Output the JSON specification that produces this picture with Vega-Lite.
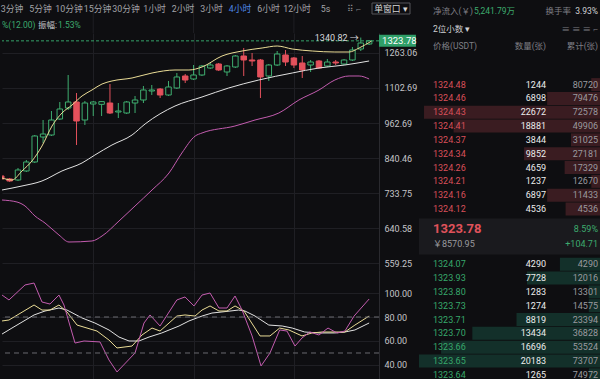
{
  "$schema": "https://vega.github.io/schema/vega-lite/v6.json",
  "background": "#0e0e11",
  "padding": 0,
  "config": {
    "view": {"stroke": null},
    "font": "Roboto, Noto Sans CJK SC",
    "concat": {"spacing": 0},
    "axis": {"labelFont": "Roboto", "labelColor": "#c4c4c8", "labelFontSize": 9, "gridColor": "#1f1f24", "domain": false, "ticks": false, "title": null}
  },
  "datasets": {
    "candles": [
      {"i":0,"o":784.1,"c":775.0,"h":790.2,"l":769.0,"d":"down"},
      {"i":1,"o":775.0,"c":769.0,"h":778.0,"l":766.0,"d":"down"},
      {"i":2,"o":772.0,"c":802.5,"h":808.7,"l":769.0,"d":"up"},
      {"i":3,"o":799.4,"c":827.8,"h":834.2,"l":796.3,"d":"up"},
      {"i":4,"o":827.8,"c":915.5,"h":919.0,"l":824.6,"d":"up"},
      {"i":5,"o":911.9,"c":922.6,"h":974.0,"l":891.0,"d":"up"},
      {"i":6,"o":919.0,"c":974.0,"h":1008.6,"l":915.5,"d":"up"},
      {"i":7,"o":977.8,"c":1016.5,"h":1044.5,"l":974.0,"d":"up"},
      {"i":8,"o":1020.4,"c":1044.5,"h":1159.7,"l":1012.5,"d":"up"},
      {"i":9,"o":1044.5,"c":970.3,"h":1081.5,"l":884.1,"d":"down"},
      {"i":10,"o":974.0,"c":1040.4,"h":1048.5,"l":955.3,"d":"up"},
      {"i":11,"o":1036.4,"c":1044.5,"h":1048.5,"l":989.2,"d":"up"},
      {"i":12,"o":1035.0,"c":1046.0,"h":1048.5,"l":989.2,"d":"up"},
      {"i":13,"o":1040.4,"c":1000.8,"h":1119.9,"l":996.9,"d":"down"},
      {"i":14,"o":1004.7,"c":1008.6,"h":1040.4,"l":981.6,"d":"up"},
      {"i":15,"o":1000.8,"c":1044.5,"h":1048.5,"l":996.9,"d":"up"},
      {"i":16,"o":1040.4,"c":1052.6,"h":1069.1,"l":1000.8,"d":"up"},
      {"i":17,"o":1052.6,"c":1094.2,"h":1111.3,"l":1040.4,"d":"up"},
      {"i":18,"o":1089.9,"c":1094.2,"h":1115.6,"l":1073.2,"d":"up"},
      {"i":19,"o":1098.4,"c":1073.2,"h":1102.7,"l":1060.8,"d":"down"},
      {"i":20,"o":1073.2,"c":1107.0,"h":1133.1,"l":1069.1,"d":"up"},
      {"i":21,"o":1102.7,"c":1150.8,"h":1168.7,"l":1098.4,"d":"up"},
      {"i":22,"o":1155.2,"c":1137.4,"h":1164.2,"l":1124.3,"d":"down"},
      {"i":23,"o":1141.9,"c":1159.7,"h":1205.5,"l":1137.4,"d":"up"},
      {"i":24,"o":1159.7,"c":1200.9,"h":1205.5,"l":1155.2,"d":"up"},
      {"i":25,"o":1191.6,"c":1205.5,"h":1214.9,"l":1187.0,"d":"up"},
      {"i":26,"o":1210.2,"c":1182.4,"h":1214.9,"l":1178.0,"d":"down"},
      {"i":27,"o":1173.3,"c":1200.9,"h":1205.5,"l":1155.2,"d":"up"},
      {"i":28,"o":1196.2,"c":1248.3,"h":1253.2,"l":1191.6,"d":"up"},
      {"i":29,"o":1248.3,"c":1229.1,"h":1287.6,"l":1155.2,"d":"down"},
      {"i":30,"o":1229.1,"c":1224.4,"h":1262.9,"l":1200.9,"d":"down"},
      {"i":31,"o":1229.1,"c":1150.8,"h":1233.9,"l":1060.8,"d":"down"},
      {"i":32,"o":1155.2,"c":1205.5,"h":1210.2,"l":1133.1,"d":"up"},
      {"i":33,"o":1205.5,"c":1258.1,"h":1272.7,"l":1200.9,"d":"up"},
      {"i":34,"o":1253.2,"c":1219.6,"h":1277.7,"l":1200.9,"d":"down"},
      {"i":35,"o":1238.7,"c":1205.5,"h":1243.5,"l":1191.6,"d":"down"},
      {"i":36,"o":1214.9,"c":1182.4,"h":1248.3,"l":1146.3,"d":"down"},
      {"i":37,"o":1205.5,"c":1219.6,"h":1229.1,"l":1173.3,"d":"up"},
      {"i":38,"o":1224.4,"c":1191.6,"h":1229.1,"l":1187.0,"d":"down"},
      {"i":39,"o":1200.9,"c":1219.6,"h":1233.9,"l":1196.2,"d":"up"},
      {"i":40,"o":1219.6,"c":1214.9,"h":1229.1,"l":1205.5,"d":"down"},
      {"i":41,"o":1210.2,"c":1229.1,"h":1233.9,"l":1205.5,"d":"up"},
      {"i":42,"o":1229.1,"c":1277.7,"h":1292.6,"l":1224.4,"d":"up"},
      {"i":43,"o":1282.6,"c":1312.8,"h":1340.82,"l":1272.7,"d":"up"},
      {"i":44,"o":1307.7,"c":1323.78,"h":1328.1,"l":1302.7,"d":"up"}
    ],
    "ma": [
      {"s":"MA1","i":0.09,"v":778.0},{"s":"MA1","i":1.28,"v":772.0},{"s":"MA1","i":2.48,"v":799.4},{"s":"MA1","i":3.67,"v":831.0},{"s":"MA1","i":4.87,"v":880.7},{"s":"MA1","i":6.07,"v":951.6},{"s":"MA1","i":7.26,"v":1000.8},{"s":"MA1","i":8.46,"v":1032.3},{"s":"MA1","i":9.66,"v":1069.1},{"s":"MA1","i":10.85,"v":1094.2},{"s":"MA1","i":12.05,"v":1119.9},{"s":"MA1","i":13.24,"v":1133.1},{"s":"MA1","i":15.64,"v":1146.3},{"s":"MA1","i":18.03,"v":1168.7},{"s":"MA1","i":20.78,"v":1182.4},{"s":"MA1","i":22.45,"v":1182.4},{"s":"MA1","i":24.01,"v":1196.2},{"s":"MA1","i":26.4,"v":1248.3},{"s":"MA1","i":28.8,"v":1272.7},{"s":"MA1","i":31.2,"v":1287.6},{"s":"MA1","i":33.0,"v":1297.6},{"s":"MA1","i":34.8,"v":1282.6},{"s":"MA1","i":37.2,"v":1272.7},{"s":"MA1","i":39.9,"v":1267.8},{"s":"MA1","i":41.6,"v":1267.8},{"s":"MA1","i":42.8,"v":1287.6},{"s":"MA1","i":44.3,"v":1323.0},
      {"s":"MA2","i":0.09,"v":742.6},{"s":"MA2","i":2.48,"v":754.2},{"s":"MA2","i":4.87,"v":769.0},{"s":"MA2","i":7.26,"v":799.4},{"s":"MA2","i":9.66,"v":824.6},{"s":"MA2","i":11.2,"v":850.5},{"s":"MA2","i":13.24,"v":884.1},{"s":"MA2","i":15.64,"v":919.0},{"s":"MA2","i":17.2,"v":959.1},{"s":"MA2","i":20.78,"v":1028.3},{"s":"MA2","i":24.01,"v":1064.9},{"s":"MA2","i":27.2,"v":1102.7},{"s":"MA2","i":30.8,"v":1137.4},{"s":"MA2","i":34.8,"v":1168.7},{"s":"MA2","i":38.0,"v":1191.6},{"s":"MA2","i":41.1,"v":1205.5},{"s":"MA2","i":44.0,"v":1224.4},
      {"s":"MA3","i":0.09,"v":714.3},{"s":"MA3","i":1.88,"v":708.8},{"s":"MA3","i":2.84,"v":698.0},{"s":"MA3","i":4.03,"v":671.4},{"s":"MA3","i":5.23,"v":653.4},{"s":"MA3","i":6.9,"v":623.7},{"s":"MA3","i":8.1,"v":607.0},{"s":"MA3","i":10.85,"v":609.4},{"s":"MA3","i":12.05,"v":621.3},{"s":"MA3","i":14.08,"v":658.5},{"s":"MA3","i":16.0,"v":698.0},{"s":"MA3","i":18.03,"v":742.6},{"s":"MA3","i":20.06,"v":793.2},{"s":"MA3","i":21.6,"v":857.1},{"s":"MA3","i":23.2,"v":915.5},{"s":"MA3","i":24.01,"v":926.2},{"s":"MA3","i":27.95,"v":951.6},{"s":"MA3","i":30.35,"v":974.0},{"s":"MA3","i":33.2,"v":1000.8},{"s":"MA3","i":35.6,"v":1052.6},{"s":"MA3","i":38.0,"v":1094.2},{"s":"MA3","i":39.9,"v":1137.4},{"s":"MA3","i":41.6,"v":1155.2},{"s":"MA3","i":42.8,"v":1155.2},{"s":"MA3","i":44.0,"v":1141.9}
    ],
    "kdj": [
      {"s":"D","i":0.09,"v":65.8},{"s":"D","i":1.28,"v":70.8},{"s":"D","i":3.92,"v":81.7},{"s":"D","i":5.23,"v":85.0},{"s":"D","i":6.9,"v":87.5},{"s":"D","i":7.86,"v":85.8},{"s":"D","i":9.66,"v":79.2},{"s":"D","i":11.2,"v":75.0},{"s":"D","i":12.88,"v":69.2},{"s":"D","i":14.08,"v":63.3},{"s":"D","i":15.28,"v":60.0},{"s":"D","i":16.47,"v":60.0},{"s":"D","i":17.67,"v":63.3},{"s":"D","i":19.2,"v":66.7},{"s":"D","i":21.26,"v":72.5},{"s":"D","i":22.45,"v":76.7},{"s":"D","i":24.01,"v":80.8},{"s":"D","i":25.2,"v":83.3},{"s":"D","i":26.4,"v":84.2},{"s":"D","i":28.4,"v":85.8},{"s":"D","i":29.15,"v":85.0},{"s":"D","i":30.35,"v":80.8},{"s":"D","i":32.0,"v":73.3},{"s":"D","i":33.6,"v":72.5},{"s":"D","i":34.8,"v":70.8},{"s":"D","i":36.3,"v":67.5},{"s":"D","i":38.0,"v":66.7},{"s":"D","i":39.9,"v":66.7},{"s":"D","i":41.1,"v":67.5},{"s":"D","i":42.3,"v":69.2},{"s":"D","i":44.0,"v":75.0},
      {"s":"K","i":0.09,"v":76.7},{"s":"K","i":0.92,"v":77.5},{"s":"K","i":3.92,"v":90.0},{"s":"K","i":4.87,"v":85.8},{"s":"K","i":5.83,"v":85.8},{"s":"K","i":6.9,"v":90.0},{"s":"K","i":7.86,"v":84.2},{"s":"K","i":9.06,"v":73.3},{"s":"K","i":11.45,"v":68.3},{"s":"K","i":12.88,"v":60.8},{"s":"K","i":13.84,"v":54.2},{"s":"K","i":15.64,"v":55.8},{"s":"K","i":16.83,"v":65.0},{"s":"K","i":18.03,"v":70.8},{"s":"K","i":18.99,"v":68.3},{"s":"K","i":21.0,"v":80.8},{"s":"K","i":21.98,"v":81.7},{"s":"K","i":23.17,"v":80.8},{"s":"K","i":24.01,"v":85.8},{"s":"K","i":24.97,"v":89.2},{"s":"K","i":26.04,"v":85.0},{"s":"K","i":27.0,"v":85.0},{"s":"K","i":27.96,"v":89.2},{"s":"K","i":29.03,"v":85.0},{"s":"K","i":30.95,"v":64.2},{"s":"K","i":32.14,"v":64.2},{"s":"K","i":33.3,"v":70.8},{"s":"K","i":34.4,"v":69.2},{"s":"K","i":35.97,"v":64.2},{"s":"K","i":37.17,"v":66.7},{"s":"K","i":38.36,"v":67.5},{"s":"K","i":39.9,"v":67.5},{"s":"K","i":41.1,"v":67.5},{"s":"K","i":42.3,"v":73.3},{"s":"K","i":44.0,"v":80.8},
      {"s":"J","i":0.09,"v":98.3},{"s":"J","i":0.92,"v":94.2},{"s":"J","i":2.84,"v":106.7},{"s":"J","i":3.92,"v":108.3},{"s":"J","i":4.87,"v":92.5},{"s":"J","i":5.83,"v":90.8},{"s":"J","i":6.9,"v":98.3},{"s":"J","i":7.5,"v":90.0},{"s":"J","i":8.82,"v":58.3},{"s":"J","i":9.9,"v":60.0},{"s":"J","i":11.81,"v":59.2},{"s":"J","i":12.88,"v":44.2},{"s":"J","i":13.84,"v":34.2},{"s":"J","i":16.0,"v":50.0},{"s":"J","i":17.07,"v":75.0},{"s":"J","i":17.79,"v":81.7},{"s":"J","i":18.99,"v":72.5},{"s":"J","i":21.0,"v":94.2},{"s":"J","i":21.98,"v":96.7},{"s":"J","i":23.05,"v":89.2},{"s":"J","i":24.01,"v":98.3},{"s":"J","i":24.97,"v":100.0},{"s":"J","i":26.04,"v":87.5},{"s":"J","i":27.0,"v":87.5},{"s":"J","i":27.96,"v":97.5},{"s":"J","i":28.8,"v":85.8},{"s":"J","i":30.0,"v":64.2},{"s":"J","i":31.07,"v":39.2},{"s":"J","i":32.14,"v":50.0},{"s":"J","i":33.3,"v":69.2},{"s":"J","i":34.17,"v":68.3},{"s":"J","i":35.13,"v":55.8},{"s":"J","i":35.97,"v":62.5},{"s":"J","i":36.9,"v":67.5},{"s":"J","i":38.0,"v":65.0},{"s":"J","i":39.08,"v":70.8},{"s":"J","i":40.16,"v":66.7},{"s":"J","i":41.1,"v":68.3},{"s":"J","i":42.2,"v":80.8},{"s":"J","i":44.0,"v":95.0}
    ],
    "book": [
      {"row":"a1","side":"ask","price":"1324.48","qty":1244,"cum":80720},
      {"row":"a2","side":"ask","price":"1324.46","qty":6898,"cum":79476},
      {"row":"a3","side":"ask","price":"1324.43","qty":22672,"cum":72578},
      {"row":"a4","side":"ask","price":"1324.41","qty":18881,"cum":49906},
      {"row":"a5","side":"ask","price":"1324.37","qty":3844,"cum":31025},
      {"row":"a6","side":"ask","price":"1324.34","qty":9852,"cum":27181},
      {"row":"a7","side":"ask","price":"1324.26","qty":4659,"cum":17329},
      {"row":"a8","side":"ask","price":"1324.21","qty":1237,"cum":12670},
      {"row":"a9","side":"ask","price":"1324.16","qty":6897,"cum":11433},
      {"row":"a10","side":"ask","price":"1324.12","qty":4536,"cum":4536},
      {"row":"b1","side":"bid","price":"1324.07","qty":4290,"cum":4290},
      {"row":"b2","side":"bid","price":"1323.93","qty":7728,"cum":12016},
      {"row":"b3","side":"bid","price":"1323.80","qty":1283,"cum":13301},
      {"row":"b4","side":"bid","price":"1323.73","qty":1274,"cum":14575},
      {"row":"b5","side":"bid","price":"1323.71","qty":8819,"cum":23394},
      {"row":"b6","side":"bid","price":"1323.70","qty":13434,"cum":36828},
      {"row":"b7","side":"bid","price":"1323.66","qty":16696,"cum":53524},
      {"row":"b8","side":"bid","price":"1323.65","qty":20183,"cum":73707},
      {"row":"b9","side":"bid","price":"1323.64","qty":1265,"cum":74972}
    ]
  },
  "spacing": 2,
  "hconcat": [
    {
      "bounds": "flush",
      "spacing": 0,
      "vconcat": [
        {
          "width": 377,
          "height": 30,
          "layer": [
            {
              "data": {"values": [{"g": 11}, {"g": 23}, {"g": 35}]},
              "mark": {"type": "rule", "color": "#1f1f24"},
              "encoding": {"x": {"field": "g", "type": "quantitative", "scale": {"domain": [0.086, 45.18], "nice": false, "zero": false, "padding": 0}, "axis": null}}
            },
            {
              "data": {"values": [
                {"t":"3分钟","k":"tab"},{"t":"5分钟","k":"tab"},{"t":"10分钟","k":"tab"},{"t":"15分钟","k":"tab"},{"t":"30分钟","k":"tab"},{"t":"1小时","k":"tab"},{"t":"2小时","k":"tab"},{"t":"3小时","k":"tab"},{"t":"4小时","k":"on"},{"t":"6小时","k":"tab"},{"t":"12小时","k":"tab"},{"t":"5s","k":"tab"},{"t":"⠿ ⌐","k":"icon"}
              ]},
              "mark": {"type": "text", "fontSize": 8.8, "baseline": "middle"},
              "encoding": {
                "x": {"field": "t", "type": "nominal", "scale": {"type": "point", "domain": ["3分钟","5分钟","10分钟","15分钟","30分钟","1小时","2小时","3小时","4小时","6小时","12小时","5s","⠿ ⌐"], "range": [10, 352], "padding": 0}, "axis": null},
                "y": {"datum": "r1", "type": "nominal", "scale": {"type": "point", "domain": ["r1", "r2"], "range": [5.5, 22], "padding": 0}, "axis": null},
                "text": {"field": "t"},
                "color": {"field": "k", "type": "nominal", "scale": {"domain": ["tab", "on", "icon"], "range": ["#a3a3a8", "#4d86e6", "#8c8c92"]}, "legend": null}
              }
            },
            {
              "data": {"values": [{"t": "单窗口 ▾"}]},
              "mark": {"type": "text", "fontSize": 8.8, "baseline": "middle", "color": "#d6d6d6"},
              "encoding": {
                "x": {"datum": "btn", "type": "nominal", "scale": {"type": "point", "domain": ["btn"], "range": [370, 408], "padding": 0}, "axis": null},
                "y": {"datum": "r1", "type": "nominal", "scale": {"type": "point", "domain": ["r1", "r2"], "range": [5.5, 22], "padding": 0}, "axis": null},
                "text": {"field": "t"}
              }
            },
            {
              "data": {"values": [{"t": "box"}]},
              "mark": {"type": "point", "shape": "M-1,-0.29L1,-0.29L1,0.29L-1,0.29Z", "size": 1444, "filled": false, "stroke": "#55555b", "strokeWidth": 1, "opacity": 1},
              "encoding": {
                "x": {"datum": "btn", "type": "nominal", "scale": {"type": "point", "domain": ["btn"], "range": [370, 408], "padding": 0}, "axis": null},
                "y": {"datum": "r1", "type": "nominal", "scale": {"type": "point", "domain": ["r1", "r2"], "range": [5.5, 22], "padding": 0}, "axis": null}
              }
            },
            {
              "data": {"values": [{"t": "%(12.00)"}]},
              "mark": {"type": "text", "fontSize": 8.5, "baseline": "middle", "align": "left", "dx": -10, "color": "#3dab6e"},
              "encoding": {
                "x": {"datum": "3分钟", "type": "nominal", "scale": {"type": "point", "domain": ["3分钟","5分钟","10分钟","15分钟","30分钟","1小时","2小时","3小时","4小时","6小时","12小时","5s","⠿ ⌐"], "range": [10, 352], "padding": 0}, "axis": null},
                "y": {"datum": "r2", "type": "nominal", "scale": {"type": "point", "domain": ["r1", "r2"], "range": [5.5, 22], "padding": 0}, "axis": null},
                "text": {"field": "t"}
              }
            },
            {
              "data": {"values": [{"t": "振幅:"}]},
              "mark": {"type": "text", "fontSize": 8.5, "baseline": "middle", "align": "left", "dx": 26, "color": "#c8c8cc"},
              "encoding": {
                "x": {"datum": "3分钟", "type": "nominal", "scale": {"type": "point", "domain": ["3分钟","5分钟","10分钟","15分钟","30分钟","1小时","2小时","3小时","4小时","6小时","12小时","5s","⠿ ⌐"], "range": [10, 352], "padding": 0}, "axis": null},
                "y": {"datum": "r2", "type": "nominal", "scale": {"type": "point", "domain": ["r1", "r2"], "range": [5.5, 22], "padding": 0}, "axis": null},
                "text": {"field": "t"}
              }
            },
            {
              "data": {"values": [{"t": "1.53%"}]},
              "mark": {"type": "text", "fontSize": 8.5, "baseline": "middle", "align": "left", "dx": 46, "color": "#3dab6e"},
              "encoding": {
                "x": {"datum": "3分钟", "type": "nominal", "scale": {"type": "point", "domain": ["3分钟","5分钟","10分钟","15分钟","30分钟","1小时","2小时","3小时","4小时","6小时","12小时","5s","⠿ ⌐"], "range": [10, 352], "padding": 0}, "axis": null},
                "y": {"datum": "r2", "type": "nominal", "scale": {"type": "point", "domain": ["r1", "r2"], "range": [5.5, 22], "padding": 0}, "axis": null},
                "text": {"field": "t"}
              }
            }
          ],
          "resolve": {"scale": {"x": "independent", "y": "independent", "color": "independent"}}
        },
        {
          "width": 377,
          "height": 237,
          "layer": [
            {
              "data": {"name": "candles"},
              "mark": {"type": "rule", "strokeWidth": 1, "clip": true},
              "encoding": {
                "x": {"field": "i", "type": "quantitative", "scale": {"domain": [0.086, 45.18], "nice": false, "zero": false, "padding": 0},
                      "axis": {"values": [11, 23, 35], "tickCount": 20, "grid": true, "labels": false, "ticks": false, "domain": false, "title": null, "gridColor": "#1f1f24"}},
                "y": {"field": "l", "type": "quantitative", "scale": {"type": "log", "domain": [544.6, 1364.7], "nice": false, "padding": 0},
                      "axis": {"orient": "right", "values": [1263.06, 1102.69, 962.69, 840.46, 733.75, 640.58, 559.25], "tickCount": 20, "format": ".2f", "grid": true, "gridColor": "#1f1f24", "labelPadding": 5, "labelOverlap": false, "labelFlush": false, "domain": true, "domainColor": "#2a2a2f", "ticks": false, "title": null}},
                "y2": {"field": "h"},
                "stroke": {"field": "d", "type": "nominal", "scale": {"domain": ["up", "down"], "range": ["#3fae70", "#e3515c"]}, "legend": null}
              }
            },
            {
              "data": {"name": "candles"},
              "mark": {"type": "bar", "width": 5.5, "strokeWidth": 1, "clip": true},
              "encoding": {
                "x": {"field": "i", "type": "quantitative", "scale": {"domain": [0.086, 45.18], "nice": false, "zero": false, "padding": 0}},
                "y": {"field": "o", "type": "quantitative", "scale": {"type": "log", "domain": [544.6, 1364.7], "nice": false, "padding": 0}},
                "y2": {"field": "c"},
                "fill": {"field": "d", "type": "nominal", "scale": {"domain": ["up", "down"], "range": ["#0e0e11", "#e3515c"]}, "legend": null},
                "stroke": {"field": "d", "type": "nominal", "scale": {"domain": ["up", "down"], "range": ["#3fae70", "#e3515c"]}, "legend": null}
              }
            },
            {
              "data": {"name": "ma"},
              "mark": {"type": "line", "strokeWidth": 1, "clip": true, "interpolate": "monotone"},
              "encoding": {
                "x": {"field": "i", "type": "quantitative"},
                "y": {"field": "v", "type": "quantitative"},
                "color": {"field": "s", "type": "nominal", "scale": {"domain": ["MA1", "MA2", "MA3"], "range": ["#eadc96", "#e2e2e2", "#c35caf"]}, "legend": null}
              }
            },
            {
              "data": {"values": [{"p": 1323.78}]},
              "mark": {"type": "rule", "color": "#35a36a", "strokeDash": [3, 2], "strokeWidth": 1},
              "encoding": {"y": {"field": "p", "type": "quantitative"}}
            },
            {
              "data": {"values": [{"i": 43, "p": 1340.82, "t": "1340.82 →"}]},
              "mark": {"type": "text", "align": "right", "baseline": "middle", "dx": -2, "fontSize": 9, "color": "#d8d8dc"},
              "encoding": {
                "x": {"field": "i", "type": "quantitative"},
                "y": {"field": "p", "type": "quantitative"},
                "text": {"field": "t"}
              }
            },
            {
              "data": {"values": [{"p": 1323.78}]},
              "mark": {"type": "bar", "height": 12, "color": "#2f9e68"},
              "encoding": {
                "x": {"datum": 45.18, "type": "quantitative"},
                "x2": {"datum": 49.6},
                "y": {"field": "p", "type": "quantitative"}
              }
            },
            {
              "data": {"values": [{"p": 1323.78, "t": "1323.78"}]},
              "mark": {"type": "text", "align": "left", "baseline": "middle", "fontSize": 9.5, "color": "#ffffff"},
              "encoding": {
                "x": {"datum": 45.55, "type": "quantitative"},
                "y": {"field": "p", "type": "quantitative"},
                "text": {"field": "t"}
              }
            }
          ]
        },
        {
          "width": 377,
          "height": 112,
          "layer": [
            {
              "data": {"name": "kdj"},
              "mark": {"type": "line", "strokeWidth": 1, "clip": true},
              "encoding": {
                "x": {"field": "i", "type": "quantitative", "scale": {"domain": [0.086, 45.18], "nice": false, "zero": false, "padding": 0},
                      "axis": {"values": [11, 23, 35], "tickCount": 20, "grid": true, "labels": false, "ticks": false, "domain": false, "title": null, "gridColor": "#1f1f24"}},
                "y": {"field": "v", "type": "quantitative", "scale": {"domain": [25.83, 119.17], "nice": false, "zero": false, "padding": 0},
                      "axis": {"orient": "right", "values": [100, 80, 60, 40], "tickCount": 20, "format": ".2f", "grid": true, "gridColor": "#1f1f24", "labelPadding": 5, "labelOverlap": false, "labelFlush": false, "domain": true, "domainColor": "#2a2a2f", "ticks": false, "title": null}},
                "color": {"field": "s", "type": "nominal", "scale": {"domain": ["K", "D", "J"], "range": ["#dcdcdc", "#e6d88c", "#c35caf"]}, "legend": null}
              }
            },
            {
              "data": {"values": [{"v": 80}, {"v": 50}]},
              "mark": {"type": "rule", "color": "#6a6a70", "strokeDash": [5, 4], "strokeWidth": 1},
              "encoding": {"y": {"field": "v", "type": "quantitative"}}
            }
          ]
        }
      ]
    },
    {
      "width": 182,
      "height": 379,
      "layer": [
        {
          "data": {"values": [{"row": "mid"}]},
          "mark": {"type": "bar", "height": 36, "color": "#1a1a1e"},
          "encoding": {
            "y": {"field": "row", "type": "nominal", "scale": {"type": "point", "domain": ["a1","a2","a3","a4","a5","a6","a7","a8","a9","a10","x3","mid","x4","b1","b2","b3","b4","b5","b6","b7","b8","b9"], "range": [81.6, 371.8], "padding": 0}, "axis": null}
          }
        },
        {
          "data": {"name": "book"},
          "transform": [{"filter": "datum.side === 'ask'"}],
          "mark": {"type": "bar", "height": 13, "color": "#3a1c21"},
          "encoding": {
            "x": {"field": "qty", "type": "quantitative", "scale": {"domain": [0, 23313], "reverse": true, "nice": false, "padding": 0}, "axis": null},
            "y": {"field": "row", "type": "nominal", "scale": {"type": "point", "domain": ["a1","a2","a3","a4","a5","a6","a7","a8","a9","a10","x3","mid","x4","b1","b2","b3","b4","b5","b6","b7","b8","b9"], "range": [81.6, 371.8], "padding": 0}, "axis": null}
          }
        },
        {
          "data": {"name": "book"},
          "transform": [{"filter": "datum.side === 'bid'"}],
          "mark": {"type": "bar", "height": 13, "color": "#13302a"},
          "encoding": {
            "x": {"field": "qty", "type": "quantitative", "scale": {"domain": [0, 19000], "reverse": true, "nice": false, "clamp": true, "padding": 0}, "axis": null},
            "y": {"field": "row", "type": "nominal", "scale": {"type": "point", "domain": ["a1","a2","a3","a4","a5","a6","a7","a8","a9","a10","x3","mid","x4","b1","b2","b3","b4","b5","b6","b7","b8","b9"], "range": [81.6, 371.8], "padding": 0}, "axis": null}
          }
        },
        {
          "data": {"name": "book"},
          "mark": {"type": "text", "align": "left", "baseline": "middle", "fontSize": 9},
          "encoding": {
            "x": {"datum": "L", "type": "nominal", "scale": {"type": "point", "domain": ["L", "R"], "range": [14, 179], "padding": 0}, "axis": null},
            "y": {"field": "row", "type": "nominal", "scale": {"type": "point", "domain": ["a1","a2","a3","a4","a5","a6","a7","a8","a9","a10","x3","mid","x4","b1","b2","b3","b4","b5","b6","b7","b8","b9"], "range": [81.6, 371.8], "padding": 0}, "axis": null},
            "text": {"field": "price"},
            "color": {"field": "side", "type": "nominal", "scale": {"domain": ["ask", "bid"], "range": ["#d9505a", "#37a86b"]}, "legend": null}
          }
        },
        {
          "data": {"name": "book"},
          "mark": {"type": "text", "align": "right", "baseline": "middle", "fontSize": 9, "dx": -52, "color": "#ececec"},
          "encoding": {
            "x": {"datum": "R", "type": "nominal", "scale": {"type": "point", "domain": ["L", "R"], "range": [14, 179], "padding": 0}, "axis": null},
            "y": {"field": "row", "type": "nominal", "scale": {"type": "point", "domain": ["a1","a2","a3","a4","a5","a6","a7","a8","a9","a10","x3","mid","x4","b1","b2","b3","b4","b5","b6","b7","b8","b9"], "range": [81.6, 371.8], "padding": 0}, "axis": null},
            "text": {"field": "qty"}
          }
        },
        {
          "data": {"name": "book"},
          "mark": {"type": "text", "align": "right", "baseline": "middle", "fontSize": 9, "color": "#9a9a9f"},
          "encoding": {
            "x": {"datum": "R", "type": "nominal", "scale": {"type": "point", "domain": ["L", "R"], "range": [14, 179], "padding": 0}, "axis": null},
            "y": {"field": "row", "type": "nominal", "scale": {"type": "point", "domain": ["a1","a2","a3","a4","a5","a6","a7","a8","a9","a10","x3","mid","x4","b1","b2","b3","b4","b5","b6","b7","b8","b9"], "range": [81.6, 371.8], "padding": 0}, "axis": null},
            "text": {"field": "cum"}
          }
        },
        {
          "data": {"values": [{"row": "mid", "t": "1323.78"}]},
          "mark": {"type": "text", "align": "left", "baseline": "middle", "fontSize": 13, "fontWeight": "bold", "dy": -7.5, "color": "#e0525b"},
          "encoding": {
            "x": {"datum": "L", "type": "nominal", "scale": {"type": "point", "domain": ["L", "R"], "range": [14, 179], "padding": 0}, "axis": null},
            "y": {"field": "row", "type": "nominal", "scale": {"type": "point", "domain": ["a1","a2","a3","a4","a5","a6","a7","a8","a9","a10","x3","mid","x4","b1","b2","b3","b4","b5","b6","b7","b8","b9"], "range": [81.6, 371.8], "padding": 0}, "axis": null},
            "text": {"field": "t"}
          }
        },
        {
          "data": {"values": [{"row": "mid", "t": "8.59%"}]},
          "mark": {"type": "text", "align": "right", "baseline": "middle", "fontSize": 9, "dy": -7.5, "color": "#3dab6e"},
          "encoding": {
            "x": {"datum": "R", "type": "nominal", "scale": {"type": "point", "domain": ["L", "R"], "range": [14, 179], "padding": 0}, "axis": null},
            "y": {"field": "row", "type": "nominal", "scale": {"type": "point", "domain": ["a1","a2","a3","a4","a5","a6","a7","a8","a9","a10","x3","mid","x4","b1","b2","b3","b4","b5","b6","b7","b8","b9"], "range": [81.6, 371.8], "padding": 0}, "axis": null},
            "text": {"field": "t"}
          }
        },
        {
          "data": {"values": [{"row": "mid", "t": "￥8570.95"}]},
          "mark": {"type": "text", "align": "left", "baseline": "middle", "fontSize": 9, "dy": 7, "color": "#9a9a9f"},
          "encoding": {
            "x": {"datum": "L", "type": "nominal", "scale": {"type": "point", "domain": ["L", "R"], "range": [14, 179], "padding": 0}, "axis": null},
            "y": {"field": "row", "type": "nominal", "scale": {"type": "point", "domain": ["a1","a2","a3","a4","a5","a6","a7","a8","a9","a10","x3","mid","x4","b1","b2","b3","b4","b5","b6","b7","b8","b9"], "range": [81.6, 371.8], "padding": 0}, "axis": null},
            "text": {"field": "t"}
          }
        },
        {
          "data": {"values": [{"row": "mid", "t": "+104.71"}]},
          "mark": {"type": "text", "align": "right", "baseline": "middle", "fontSize": 9, "dy": 7, "color": "#3dab6e"},
          "encoding": {
            "x": {"datum": "R", "type": "nominal", "scale": {"type": "point", "domain": ["L", "R"], "range": [14, 179], "padding": 0}, "axis": null},
            "y": {"field": "row", "type": "nominal", "scale": {"type": "point", "domain": ["a1","a2","a3","a4","a5","a6","a7","a8","a9","a10","x3","mid","x4","b1","b2","b3","b4","b5","b6","b7","b8","b9"], "range": [81.6, 371.8], "padding": 0}, "axis": null},
            "text": {"field": "t"}
          }
        },
        {
          "data": {"values": [{"row": "h1", "t": "净流入(￥)", "k": "dim"}, {"row": "h2", "t": "2位小数 ▾", "k": "lab"}, {"row": "h3", "t": "价格(USDT)", "k": "dim"}]},
          "mark": {"type": "text", "align": "left", "baseline": "middle", "fontSize": 8.5},
          "encoding": {
            "x": {"datum": "L", "type": "nominal", "scale": {"type": "point", "domain": ["L", "R"], "range": [14, 179], "padding": 0}, "axis": null},
            "y": {"field": "row", "type": "nominal", "scale": {"type": "point", "domain": ["h1", "h2", "h3"], "range": [8, 43], "padding": 0}, "axis": null},
            "text": {"field": "t"},
            "color": {"field": "k", "type": "nominal", "scale": {"domain": ["dim", "lab"], "range": ["#7f7f85", "#d0d0d4"]}, "legend": null}
          }
        },
        {
          "data": {"values": [{"row": "h1", "t": "5,241.79万"}]},
          "mark": {"type": "text", "align": "left", "baseline": "middle", "fontSize": 8.5, "dx": 41, "color": "#3dab6e"},
          "encoding": {
            "x": {"datum": "L", "type": "nominal", "scale": {"type": "point", "domain": ["L", "R"], "range": [14, 179], "padding": 0}, "axis": null},
            "y": {"field": "row", "type": "nominal", "scale": {"type": "point", "domain": ["h1", "h2", "h3"], "range": [8, 43], "padding": 0}, "axis": null},
            "text": {"field": "t"}
          }
        },
        {
          "data": {"values": [{"row": "h1", "t": "3.93%", "k": "lab"}, {"row": "h2", "t": "≡  ≡  ≡  ⌐", "k": "dim"}, {"row": "h3", "t": "累计(张)", "k": "dim"}]},
          "mark": {"type": "text", "align": "right", "baseline": "middle", "fontSize": 8.5},
          "encoding": {
            "x": {"datum": "R", "type": "nominal", "scale": {"type": "point", "domain": ["L", "R"], "range": [14, 179], "padding": 0}, "axis": null},
            "y": {"field": "row", "type": "nominal", "scale": {"type": "point", "domain": ["h1", "h2", "h3"], "range": [8, 43], "padding": 0}, "axis": null},
            "text": {"field": "t"},
            "color": {"field": "k", "type": "nominal", "scale": {"domain": ["dim", "lab"], "range": ["#7f7f85", "#d0d0d4"]}, "legend": null}
          }
        },
        {
          "data": {"values": [{"row": "h1", "t": "换手率"}]},
          "mark": {"type": "text", "align": "right", "baseline": "middle", "fontSize": 8.5, "dx": -27, "color": "#7f7f85"},
          "encoding": {
            "x": {"datum": "R", "type": "nominal", "scale": {"type": "point", "domain": ["L", "R"], "range": [14, 179], "padding": 0}, "axis": null},
            "y": {"field": "row", "type": "nominal", "scale": {"type": "point", "domain": ["h1", "h2", "h3"], "range": [8, 43], "padding": 0}, "axis": null},
            "text": {"field": "t"}
          }
        },
        {
          "data": {"values": [{"row": "h3", "t": "数量(张)"}]},
          "mark": {"type": "text", "align": "right", "baseline": "middle", "fontSize": 8.5, "dx": -52, "color": "#7f7f85"},
          "encoding": {
            "x": {"datum": "R", "type": "nominal", "scale": {"type": "point", "domain": ["L", "R"], "range": [14, 179], "padding": 0}, "axis": null},
            "y": {"field": "row", "type": "nominal", "scale": {"type": "point", "domain": ["h1", "h2", "h3"], "range": [8, 43], "padding": 0}, "axis": null},
            "text": {"field": "t"}
          }
        }
      ],
      "resolve": {"scale": {"x": "independent", "y": "independent", "color": "independent"}}
    }
  ]
}
